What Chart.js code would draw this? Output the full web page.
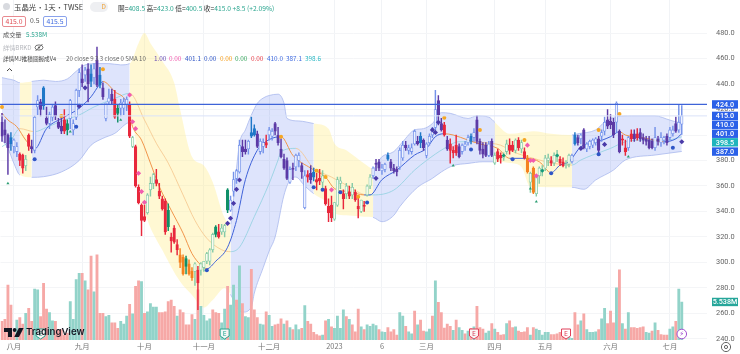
<!DOCTYPE html>
<html>
<head>
<meta charset="utf-8">
<title>玉晶光</title>
<script src="https://cdn.jsdelivr.net/npm/chart.js@4"></script>
<style>
  html, body { margin: 0; padding: 0; background: #fff; }
  #wrap { position: relative; width: 740px; height: 354px; overflow: hidden; font-family: "Noto Sans CJK TC", "Noto Sans", sans-serif; }
  canvas { position: absolute; left: 0; top: 0; }
  .t { position: absolute; white-space: nowrap; line-height: 10px; font-size: 6.4px; color: #555; }
  .box { position: absolute; top: 16px; width: 22px; height: 9px; line-height: 9px; text-align: center; border-radius: 2px; font-size: 6.8px; background: #fff; }
  .up { color: #2aa58f; }
  #logo { position: absolute; left: 4px; top: 326px; display: flex; align-items: center; background: transparent; }
</style>
</head>
<body>
<div id="wrap">
  <canvas id="chart" width="740" height="354"></canvas>

  <div class="t" style="left:3px;top:3px;width:7px;height:7px;border-radius:50%;background:#d8dadf;"></div>
  <div class="t" style="left:14px;top:1px;font-size:7.4px;word-spacing:-1.4px;line-height:11px;color:#3a3a3a;">玉晶光 · 1天 · TWSE</div>
  <div class="t" style="left:90px;top:2px;width:18px;height:10px;border-radius:5px;background:#eeeff2;color:#f0a030;text-align:right;font-size:6.4px;padding-right:2px;box-sizing:border-box;">D</div>
  <div class="t" style="left:118px;top:3px;font-size:6.7px;color:#333;">開=<span class="up">408.5</span> 高=<span class="up">423.0</span> 低=<span class="up">400.5</span> 收=<span class="up">415.0</span> <span class="up">+8.5 (+2.09%)</span></div>

  <div class="box" style="left:2px;color:#e04a52;border:1px solid #e88a90;">415.0</div>
  <div class="t" style="left:30px;top:15px;font-size:6.8px;">0.5</div>
  <div class="box" style="left:43px;color:#3f6ae0;border:1px solid #8aa2ec;">415.5</div>

  <div class="t" style="left:3px;top:30px;font-size:6.2px;">成交量</div>
  <div class="t up" style="left:26px;top:30px;font-size:6.4px;">5.538M</div>
  <div class="t" style="left:3px;top:43px;font-size:6.2px;color:#b6b8bd;">詳情BRKD</div>
  <svg class="t" style="left:34px;top:43px;" width="10" height="9" viewBox="0 0 10 9">
    <ellipse cx="5" cy="4.5" rx="4" ry="2.6" fill="none" stroke="#666" stroke-width=".9"/>
    <circle cx="5" cy="4.5" r="1.1" fill="#666"/>
    <line x1="1.5" y1="8" x2="8.5" y2="1" stroke="#666" stroke-width=".9"/>
  </svg>

  <div class="t" style="left:3px;top:54px;font-size:5.6px;color:#444;">詳情MJ推積圖握成V4</div>
  <div class="t" style="left:66px;top:54px;font-size:6.1px;color:#666;">20 close 9 3 3 close 0 SMA 10</div>
  <div class="t" style="left:154px;top:54px;color:#6a4fb5;">1.00</div>
  <div class="t" style="left:169px;top:54px;color:#f25cae;">0.00</div>
  <div class="t" style="left:185px;top:54px;color:#2f55c6;">401.1</div>
  <div class="t" style="left:204px;top:54px;color:#2f55c6;">0.00</div>
  <div class="t" style="left:220px;top:54px;color:#f5a020;">0.00</div>
  <div class="t" style="left:235px;top:54px;color:#3aa860;">0.00</div>
  <div class="t" style="left:251px;top:54px;color:#e8424c;">0.00</div>
  <div class="t" style="left:267px;top:54px;color:#3f6ae0;">410.0</div>
  <div class="t" style="left:286px;top:54px;color:#3f6ae0;">387.1</div>
  <div class="t" style="left:305px;top:54px;color:#2bb8c4;">398.6</div>

  <svg class="t" style="left:2px;top:65px;" width="15" height="10" viewBox="0 0 15 10">
    <rect x="0" y="0" width="15" height="10" rx="2" fill="#fff"/>
    <path d="M5 6 L7.5 3.6 L10 6" fill="none" stroke="#444" stroke-width="1"/>
  </svg>

  <div id="logo">
    <svg width="20" height="11" viewBox="0 0 20 11">
      <path d="M0 1 H8 V10 H4 V5 H0 Z" fill="#131722"/>
      <circle cx="10.6" cy="3" r="1.9" fill="#131722"/>
      <path d="M14.8 1 H19.6 L15 10 H10.2 Z" fill="#131722"/>
    </svg>
    <span style="font-family:Inter,sans-serif;font-weight:600;font-size:9.6px;color:#131722;margin-left:2px;line-height:12px;">TradingView</span>
  </div>

  <svg class="t" style="left:720px;top:341px;" width="12" height="12" viewBox="0 0 12 12">
    <circle cx="6" cy="6" r="4.6" fill="none" stroke="#666" stroke-width="1"/>
    <circle cx="6" cy="6" r="1.6" fill="none" stroke="#666" stroke-width="1"/>
  </svg>
</div>

<script>
const BAR_SLOTS = 238;

const tickDays = [4, 27, 48, 68, 90, 112, 128, 143, 166, 183, 205, 225];
const tickLabels = ["八月", "九月", "十月", "十一月", "十二月", "2023", "6", "三月", "四月", "五月", "六月", "七月"];
const priceTicks = [240, 260, 280, 300, 320, 340, 360, 380, 400, 420, 440, 460, 480];

const opens = [
  410,404,400,398,391,387,385,384,376,400, 391,388,422,426,437,413,409,414,423,410,
  407,412,409,413,404,414,435,444,447,452, 448,445,459,447,437,413,426,432,428,421,
  421,421,424,424,391,391,359,345,336,339, 357,362,365,356,350,348,341,320,327,314,
  306,304,303,299,293,293,294,294,296,301, 301,310,322,324,324,324,341,341,356,366,
  371,391,389,389,402,405,401,387,391,394, 400,399,409,400,389,381,380,363,374,375,
  380,376,343,369,370,371,365,366,363,358, 344,345,334,345,362,354,354,355,353,355,
  344,340,345,353,360,368,378,379,372,373, 384,379,374,373,375,382,392,388,387,393,
  395,399,396,384,394,400,406,427,409,408, 396,393,388,392,391,387,391,394,399,398,
  412,395,389,392,384,395,378,387,384,382, 387,392,392,388,396,389,387,382,363,374,
  354,368,371,374,380,380,378,383,381,379, 376,377,379,400,398,397,404,389,391,392,
  394,397,399,403,412,411,410,410,403,397, 390,390,401,401,401,402,398,397,396,395,
  390,397,394,396,399,398,401,409,404,408.5
];
const highs = [
  417,412,401,402,397,394,386,385,384,401, 396,415,431,428,438,422,418,424,426,413,
  414,420,412,428,412,436,452,455,453,456, 455,456,469,453,441,425,436,436,435,424,
  428,429,430,426,399,392,361,346,345,354, 367,370,373,362,352,350,346,323,329,318,
  311,306,305,302,296,300,297,300,301,308, 311,323,329,330,330,330,358,352,371,373,
  396,396,396,396,414,408,403,397,397,400, 406,405,410,406,397,385,382,375,378,385,
  386,378,372,372,376,374,370,373,372,360, 350,352,347,367,367,357,362,360,362,357,
  352,349,348,361,369,375,381,381,377,378, 386,381,377,375,390,395,395,392,393,404,
  399,402,397,394,401,406,435,431,413,410, 399,397,391,400,393,393,395,400,401,405,
  415,397,394,394,395,397,386,389,386,386, 396,397,395,397,398,396,390,384,371,375,
  369,375,376,384,385,383,386,388,383,382, 380,385,385,402,400,401,405,394,396,397,
  398,399,404,414,420,416,413,426,404,400, 396,399,404,404,405,405,401,399,399,397,
  406,399,402,399,401,406,407,414,424,423
];
const lows = [
  395,394,369,388,386,383,376,370,372,388, 386,386,416,415,420,408,405,411,412,405,
  401,401,400,405,400,412,430,438,442,426, 438,440,438,437,428,411,424,424,413,410,
  415,416,419,398,390,359,346,321,332,338, 352,358,360,350,341,322,325,308,315,306,
  296,290,291,290,286,282,263,290,293,299, 298,308,320,319,322,320,339,340,352,362,
  370,383,385,385,398,399,390,385,386,390, 396,396,400,392,382,373,365,362,365,372,
  375,366,342,363,362,364,357,361,358,345, 332,332,333,344,358,342,350,350,350,348,
  335,339,340,352,358,366,372,372,369,371, 380,372,370,368,373,380,388,385,385,392,
  392,390,388,382,392,398,404,408,403,399, 388,378,382,384,382,385,388,392,393,395,
  393,385,382,383,383,383,377,379,378,380, 385,385,387,386,388,386,381,370,355,354,
  352,362,368,372,376,376,376,379,376,375, 374,375,378,392,392,393,389,387,389,390,
  392,386,395,400,405,405,398,402,386,392, 384,388,395,395,396,395,393,392,389,389,
  388,392,391,393,392,396,399,402,402,400.5
];
const closes = [
  399,400,390,393,396,391,380,374,381,391, 389,414,427,420,423,409,416,422,415,406,
  403,403,404,427,409,435,449,441,451,440, 442,452,439,439,430,425,429,427,414,417,
  425,426,428,399,398,360,347,333,333,353, 362,369,362,352,342,324,328,317,316,310,
  300,291,297,291,288,299,284,299,301,307, 310,322,328,320,327,329,357,349,365,372,
  392,387,387,395,399,400,391,395,394,392, 404,403,403,394,383,374,366,373,373,384,
  384,371,368,367,365,367,363,364,368,346, 339,335,347,365,364,350,360,352,359,349,
  342,349,344,360,367,374,377,374,374,377, 381,374,372,371,388,392,390,390,390,403,
  393,394,390,393,399,405,420,416,404,400, 389,388,386,386,383,392,393,398,395,402,
  395,388,385,384,393,384,384,381,382,384, 393,388,388,396,390,394,382,371,370,355,
  368,374,373,382,382,378,384,385,378,376, 377,384,384,393,394,400,390,393,395,396,
  397,388,402,410,407,408,400,425,387,396, 387,398,397,397,398,397,396,395,390,390,
  398,395,398,398,394,404,404,403,410,415
];

// 成交量 (M)
const volumes = [
  2.7,3,8,5.1,1.2,2.9,3.25,2.3,3.9,4.6, 2.7,7.4,7.3,3.4,8.25,4.5,4,2.8,2.7,1.5,
  1.5,.7,1,5.6,3,8.8,9.7,9.7,8.6,7.3, 12.2,7,12.4,3.9,3.9,3.4,3.6,2.5,2.5,1.7,
  2.7,2.3,3.5,5.2,3.8,7.8,8.6,8.5,3.9,4.1, 5.3,4.8,4.8,4,4,4.1,5.6,5.8,4.9,3.5,
  4.4,4,2.2,2.2,3.7,3,7.3,4.9,3.6,2.8, 3.1,4.4,4,3.9,2.5,4.5,7.8,5.1,8,5.8,
  10.8,5.3,3.4,3.25,10.3,4.4,3.25,2.3,2.2,4.1, 3.6,2,2.2,2.3,3.1,2.3,2.8,1.8,1.5,2.2,
  1.5,1.7,5,2.7,2.3,1.1,.8,.6,.7,2.8, 3,1.9,1.7,3.5,1.7,4.4,3.4,3,2.2,1.2,
  4.5,1.9,1.5,2.2,2,2.3,2.1,1.5,1.2,1.1, 1.8,1.2,1.5,.7,4,3.5,2,1.2,.9,4.2,
  2.2,2.9,1.3,1.2,1.6,3.5,8.6,5.5,4,1.75, 2.3,2,1.4,2.9,1.8,1.4,.9,1.3,1.7,1.9,
  4.9,1.8,1.6,1,1.3,2.4,1.6,1.1,.7,.8, 2.4,2.8,1.8,1.9,1.3,1.1,1.2,1.8,.7,1.8,
  1.6,1.4,.7,1.1,1.1,.8,.8,.9,1.1,.7, .7,.4,.25,4,2.2,2.8,3.8,1.5,1.1,1.1,
  1.2,1.5,3.1,4.6,2.4,4.2,2.5,7.6,10.2,2.4, 1.6,4,1.8,1.8,1.7,1.8,1.9,1.1,1,1.3,
  2.5,1.4,.8,.7,.7,1.6,1.9,2.7,7.4,5.538
];

const volumeUpDays = [
  5,8,11,12,16,17,23,24,25,26,28,31,35,36,40,41,42,44,47,49,50,51,52,59,65,67,68,69,70,74,75,
  77,78,80,82,83,87,88,90,91,95,97,99,100,102,108,110,112,113,114,115,117,121,123,124,125,126,
  128,129,134,135,137,138,140,143,144,146,152,154,155,157,159,163,164,166,170,173,178,180,181,
  182,183,184,191,192,195,197,198,199,200,202,203,207,209,211,217,218,220,225,226,228,229
];

// bands and averages, read at these bars only
const upperDays = [0,2,4,6,10,14,18,22,25,28,32,36,40,43,46,48,50,54,58,60,64,68,71,75,77,78,80,82,84,86,88,90,93,95,96,100,105,110,112,116,122,125,128,132,135,139,142,145,148,151,157,160,164,166,171,179,185,192,194,200,203,207,212,220,225,228,229];
const upperBand = [445,444,443,441,442,443,442,444,450,455,456,456,455,456,472,480,472,458,441,420,383,376,363,335,330,350,393,404,415.6,424.8,429,431,432,425,413,411,409,405,393.4,388,377.7,373.8,383,387,394.7,404,405,409,417.5,417,413,415,414,410,401,403,401,400,401,404,410,414.4,415,415,411.7,410,410];

const lowerDays = [0,2,4,6,10,14,20,26,30,34,38,43,45,46,49,54,60,64,68,71,75,77,79,81,84,85,88,90,92,95,97,99,102,105,110,112,116,122,125,128,132,134,140,145,148,152,157,162,166,171,175,178,192,196,200,206,210,220,229];
const lowerBand = [396,389.5,377.8,368.6,366.8,367.3,371,380,392,397.4,401.3,409.7,396,359.5,333.4,309.8,285,274.5,264.6,270.6,279.8,275,265,261,265,276,296,309,320,352.9,364.7,367,360,354,346,338.5,337,335.9,335.4,332,337,343.8,359,366,371,376,377.7,379,379,378,375,359.5,359,357.4,364.7,372.5,380.4,384.3,387.1];

const fastDays = [0,2,5,8,11,15,21,26,30,33,34,38,42,44,47,50,53,57,61,64,67,69,72,76,79,82,86,89,93,94,98,104,109,112,117,122,124,128,133,139,143,146,149,152,157,161,167,171,177,181,185,188,191,195,199,205,208,210,217,223,227,229];
const fastAvg = [417,411.8,406.5,396,389,405,414,421,430,440,442,434,425,406.5,396,378,359.5,341,323,307,298,295,301,312,333,365,388,395,398.6,398.7,384,374,367,358,355.5,353,353,365,372.5,384.3,389.5,398.7,401,400,396,393,389.5,381.7,381.7,379,370.4,376.4,379,390.8,393.4,398.7,402.6,400,397.4,394.7,397,401.1];

const slowDays = [0,3,6,11,15,21,26,31,38,43,48,52,56,61,65,69,74,77,80,85,90,93,94,99,105,111,116,123,125,132,139,143,149,154,158,165,168,172,179,186,192,195,199,205,210,217,224,229];
const slowAvg = [390.8,396,405,402.6,406,411.8,415.7,422,428.7,432.7,411.8,393.5,378,353,333,319,310,308.5,312,336,362,380.4,387,389.5,374,367,360.7,353,353,356.8,372.5,380,389.5,394.7,394.7,393.4,392,387,381.7,377.7,376.4,380.4,384.3,389.5,394.7,396,396,398.6];

// band zone changes: blue first, then yellow, and so on
const zoneStarts = [0, 6, 10, 43, 77, 105, 125, 166, 192];

const solidBlueDays = [3, 14, 30, 33, 84, 85, 105, 130, 141, 158, 193];
const solidGreenDays = [22, 39, 56, 62, 72, 76];
const solidOrangeDays = [60, 61, 63, 64, 177, 179];
const solidRedDays = [21, 38, 89, 103, 106, 107, 149, 151, 152, 153, 209, 210, 212, 214];

const purpleSignalDays = [26, 28, 76, 77, 78, 79, 80, 126, 145, 146, 147, 195, 203, 229];
const purpleSignalPrices = [422.7, 437, 330.7, 334.7, 346.4, 357.4, 364.7, 366, 404, 402, 410, 389.5, 392.6, 394.7];
const blueSignalDays = [11, 25, 69, 105, 108, 114, 123, 158, 172, 185, 201, 226];
const blueSignalPrices = [381, 406.5, 294, 359, 357, 355, 347, 388.7, 381, 370, 385, 390];
const orangeSignalDays = [0, 20, 34, 94, 106, 109, 120, 149, 161, 176, 201, 208];
const orangeSignalPrices = [422, 415, 451.5, 398.7, 372, 367, 351.6, 413.6, 403.9, 396, 404, 416.4];
const pinkSignalDays = [43, 44, 45, 46, 47, 48, 111, 177, 178, 179, 180];
const pinkSignalPrices = [431.4, 410.4, 405, 370, 355.6, 347.2, 357, 392, 380, 380, 368];
const tealSignalDays = [169, 182, 187];
const tealSignalPrices = [384, 372, 384];
const arrowDays = [2, 23, 40, 152, 178, 180, 211];
const arrowPrices = [362, 402.6, 411.8, 376, 358, 347.7, 383];

const earningsDays = [13, 75, 159, 190];
const earningsKinds = ["teal", "teal", "red", "red"];
const dividendDay = 229;

const levelPrices = [424, 415];
const tagPrices = [424.0, 415.0, 410.0, 401.0, 398.5, 387.0];
const lastVolumeTag = "5.538M";

const upColor = "#92d3c9";
const downColor = "#f6a8a6";

const labels = Array.from({ length: BAR_SLOTS }, (_, i) => {
  const k = tickDays.indexOf(i);
  return k >= 0 ? tickLabels[k] : "";
});

function sparse(days, values) {
  const out = new Array(opens.length).fill(null);
  days.forEach((d, k) => { out[d] = values[k]; });
  return out;
}

function zoneAt(day) {
  let k = 0;
  zoneStarts.forEach((start, n) => { if (day >= start) k = n; });
  return k % 2 === 0 ? "blue" : "yellow";
}

function candleColor(i) {
  if (solidBlueDays.includes(i)) return { line: "#1f78c8", fill: "#1f78c8" };
  if (solidGreenDays.includes(i)) return { line: "#0f8f68", fill: "#0f8f68" };
  if (solidOrangeDays.includes(i)) return { line: "#f5821f", fill: "#f5821f" };
  if (solidRedDays.includes(i)) return { line: "#e8283c", fill: "#e8283c" };
  const zone = zoneAt(i);
  if (closes[i] >= opens[i]) {
    return zone === "blue" ? { line: "#7593ea", fill: "#eef2ff" } : { line: "#86cba8", fill: "#f7fcf0" };
  }
  return zone === "blue" ? { line: "#5c3aa6", fill: "#5c3aa6" } : { line: "#e8283c", fill: "#e8283c" };
}

// which way an average is heading at a given bar
function headingFn(days, values) {
  return (day) => {
    let k = 0;
    while (k < days.length - 2 && days[k + 1] <= day) k++;
    return values[k + 1] >= values[k];
  };
}

const fastRising = headingFn(fastDays, fastAvg);
const slowRising = headingFn(slowDays, slowAvg);

function signalSet(days, prices, style, radius, color) {
  return {
    type: "line",
    data: sparse(days, prices),
    showLine: false,
    pointStyle: style,
    pointRadius: radius,
    pointBackgroundColor: color,
    pointBorderWidth: 0,
    order: 1
  };
}

const overlayPlugin = {
  id: "overlay",
  afterDatasetsDraw(chart) {
    const { ctx, scales, chartArea } = chart;
    const y = scales.y;
    const x = scales.x;

    ctx.save();
    ctx.strokeStyle = "#3e63d8";
    ctx.lineWidth = 1.3;
    ctx.beginPath();
    ctx.moveTo(0, y.getPixelForValue(levelPrices[0]));
    ctx.lineTo(chartArea.right, y.getPixelForValue(levelPrices[0]));
    ctx.stroke();
    ctx.strokeStyle = "#dbe2f9";
    ctx.lineWidth = 1;
    ctx.beginPath();
    ctx.moveTo(0, y.getPixelForValue(levelPrices[1]));
    ctx.lineTo(chartArea.right, y.getPixelForValue(levelPrices[1]));
    ctx.stroke();

    earningsDays.forEach((day, k) => {
      const px = x.getPixelForValue(day);
      const color = earningsKinds[k] === "teal" ? "#2aa58f" : "#e0405a";
      ctx.fillStyle = "rgba(255,255,255,.85)";
      ctx.strokeStyle = color;
      ctx.lineWidth = 1;
      ctx.beginPath();
      ctx.moveTo(px - 4.5, 329);
      ctx.lineTo(px + 4.5, 329);
      ctx.lineTo(px + 4.5, 336);
      ctx.lineTo(px, 339);
      ctx.lineTo(px - 4.5, 336);
      ctx.closePath();
      ctx.fill();
      ctx.stroke();
      ctx.fillStyle = color;
      ctx.font = "7px 'Noto Sans'";
      ctx.textAlign = "center";
      ctx.textBaseline = "middle";
      ctx.fillText("E", px, 333.5);
    });

    const dx = x.getPixelForValue(dividendDay);
    ctx.fillStyle = "#fff";
    ctx.strokeStyle = "#a24fd0";
    ctx.lineWidth = 1;
    ctx.beginPath();
    ctx.arc(dx, 334, 4.8, 0, Math.PI * 2);
    ctx.fill();
    ctx.stroke();
    ctx.fillStyle = "#a24fd0";
    ctx.font = "7px 'DejaVu Sans'";
    ctx.textAlign = "center";
    ctx.textBaseline = "middle";
    ctx.fillText("⚡", dx, 334);
    ctx.restore();
  },
  afterDraw(chart) {
    const { ctx, scales } = chart;
    const y = scales.y;
    const nudges = [0, 0, 2.5, 0, 5.4, 0];
    ctx.save();
    ctx.font = "500 7.2px Roboto";
    ctx.textAlign = "center";
    ctx.textBaseline = "middle";
    tagPrices.forEach((price, k) => {
      const py = y.getPixelForValue(price) + nudges[k];
      ctx.fillStyle = k === 4 ? "#1fb5bd" : "#2a60e8";
      ctx.fillRect(712, py - 4.2, 26, 8.4);
      ctx.fillStyle = "#fff";
      ctx.fillText(price.toFixed(1), 725, py + 0.4);
    });
    const vy = scales.yVol.getPixelForValue(volumes[volumes.length - 1]);
    ctx.fillStyle = "#26a69a";
    ctx.fillRect(712, vy - 4.2, 26, 8.4);
    ctx.fillStyle = "#fff";
    ctx.fillText(lastVolumeTag, 725, vy + 0.4);
    ctx.restore();
  }
};

const bandSegment = {
  backgroundColor: (c) => zoneAt(c.p0DataIndex) === "blue" ? "rgba(92,122,238,.2)" : "rgba(255,236,140,.38)",
  borderColor: (c) => zoneAt(c.p0DataIndex) === "blue" ? "#a9b9ee" : "rgba(255,236,140,0)"
};

new Chart(document.getElementById("chart"), {
  type: "bar",
  plugins: [overlayPlugin],
  data: {
    labels,
    datasets: [
      {
        type: "line",
        data: sparse(upperDays, upperBand),
        yAxisID: "y",
        spanGaps: true,
        cubicInterpolationMode: "monotone",
        pointRadius: 0,
        borderWidth: 0.8,
        fill: "+1",
        segment: bandSegment,
        order: 10
      },
      {
        type: "line",
        data: sparse(lowerDays, lowerBand),
        yAxisID: "y",
        spanGaps: true,
        cubicInterpolationMode: "monotone",
        pointRadius: 0,
        borderWidth: 0.8,
        fill: false,
        segment: bandSegment,
        order: 9
      },
      {
        data: volumes,
        yAxisID: "yVol",
        backgroundColor: volumes.map((_, i) => (volumeUpDays.includes(i) ? upColor : downColor)),
        barThickness: 2.2,
        grouped: false,
        order: 8
      },
      {
        type: "line",
        data: sparse(slowDays, slowAvg),
        spanGaps: true,
        cubicInterpolationMode: "monotone",
        pointRadius: 0,
        borderWidth: 0.8,
        fill: false,
        segment: { borderColor: (c) => (slowRising(c.p0DataIndex) ? "#8fd0e0" : "#f5c58c") },
        order: 7
      },
      {
        type: "line",
        data: sparse(fastDays, fastAvg),
        spanGaps: true,
        cubicInterpolationMode: "monotone",
        pointRadius: 0,
        borderWidth: 1,
        fill: false,
        segment: { borderColor: (c) => (fastRising(c.p0DataIndex) ? "#3f62d8" : "#f0954a") },
        order: 6
      },
      {
        data: opens.map((_, i) => [lows[i], highs[i]]),
        yAxisID: "y",
        backgroundColor: opens.map((_, i) => candleColor(i).line),
        barThickness: 0.8,
        grouped: false,
        order: 5
      },
      {
        data: opens.map((_, i) => [opens[i], closes[i]]),
        yAxisID: "y",
        backgroundColor: opens.map((_, i) => candleColor(i).fill),
        borderColor: opens.map((_, i) => candleColor(i).line),
        borderWidth: 0.8,
        borderSkipped: false,
        barThickness: 2.6,
        grouped: false,
        order: 4
      },
      signalSet(purpleSignalDays, purpleSignalPrices, "rectRot", 2.6, "#4a3aa8"),
      signalSet(blueSignalDays, blueSignalPrices, "circle", 2, "#2f55c6"),
      signalSet(orangeSignalDays, orangeSignalPrices, "circle", 2, "#f5a623"),
      signalSet(pinkSignalDays, pinkSignalPrices, "rectRot", 2.6, "#f25cae"),
      signalSet(tealSignalDays, tealSignalPrices, "rectRot", 2, "#149a78"),
      signalSet(arrowDays, arrowPrices, "triangle", 1.8, "#2a9d72")
    ]
  },
  options: {
    responsive: false,
    animation: false,
    layout: { padding: 0, autoPadding: false },
    plugins: { legend: { display: false }, tooltip: { enabled: false } },
    scales: {
      x: {
        offset: true,
        grid: {
          offset: false,
          drawTicks: false,
          color: (c) => (c.tick && c.tick.label ? "#f1f3f6" : "rgba(0,0,0,0)")
        },
        border: { display: false },
        ticks: {
          autoSkip: false,
          maxRotation: 0,
          minRotation: 0,
          padding: 2,
          color: "#777",
          font: { size: 7.4, family: "'Noto Sans CJK TC', 'Noto Sans'" },
          callback: (v, i) => labels[i]
        },
        afterFit(scale) { scale.height = 14; }
      },
      y: {
        position: "right",
        min: 239.2,
        max: 505.9,
        bounds: "data",
        grid: { color: "#f4f5f7", drawTicks: false },
        border: { display: false },
        ticks: {
          padding: 9,
          color: "#666",
          font: { size: 7.4, family: "Roboto" },
          callback: (v) => Number(v).toFixed(1)
        },
        afterBuildTicks(scale) { scale.ticks = priceTicks.map((value) => ({ value })); },
        afterFit(scale) {
          scale.width = 33;
          scale.paddingTop = 0;
          scale.paddingBottom = 0;
        }
      },
      yVol: {
        display: false,
        min: 0,
        max: 49.5,
        grid: { display: false }
      }
    }
  }
});
</script>
</body>
</html>
